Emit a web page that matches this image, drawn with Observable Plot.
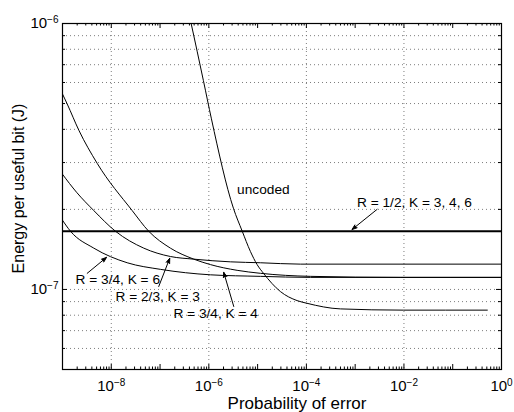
<!DOCTYPE html>
<html><head><meta charset="utf-8">
<script src="https://cdn.jsdelivr.net/npm/d3@7"></script>
<script src="https://cdn.jsdelivr.net/npm/@observablehq/plot@0.6"></script>
<style>
html,body{margin:0;padding:0;background:#fff;}
#chart svg{display:block;font-family:"Liberation Sans",Arial,sans-serif;}
</style></head><body><div id="chart"></div>
<script>
// ---- tick values ----
const xDecades = [1e-9, 1e-8, 1e-7, 1e-6, 1e-5, 1e-4, 1e-3, 1e-2, 1e-1, 1];
const xLabelTicks = [1e-8, 1e-6, 1e-4, 1e-2, 1];
const xLabelExps = ["\u22128", "\u22126", "\u22124", "\u22122", "0"];
const xGrid = [1e-8, 1e-6, 1e-4, 1e-2];
const yLabelTicks = [1e-7, 1e-6];
const yLabelExps = ["\u22127", "\u22126"];
const yGrid = [6e-8, 7e-8, 8e-8, 9e-8, 1e-7, 2e-7, 3e-7, 4e-7, 5e-7, 6e-7, 7e-7, 8e-7, 9e-7];
const minorMultipliers = [2, 3, 4, 5, 6, 7, 8, 9];

// ---- series ----
const uncodedP = [4.34e-7, 7.74e-7, 1.13e-6, 3.19e-6, 4.81e-6, 7.11e-6, 9.77e-6, 1.32e-5, 2.93e-5, 6.44e-5, 1.03e-4, 4.98e-4, 9.7e-3, 0.512];
const uncodedE = [1.0e-6, 6.10e-7, 4.38e-7, 2.02e-7, 1.66e-7, 1.39e-7, 1.24e-7, 1.15e-7, 9.82e-8, 9.08e-8, 8.87e-8, 8.45e-8, 8.36e-8, 8.36e-8];

const r34k4P = [1e-9, 1.25e-9, 2.16e-9, 5.14e-9, 2.68e-8, 5.86e-8, 1.63e-7, 4.91e-7, 1.08e-6, 3.80e-6, 1.14e-5, 1.21e-4, 8.4e-3, 1];
const r34k4E = [5.43e-7, 4.98e-7, 3.97e-7, 2.98e-7, 1.98e-7, 1.655e-7, 1.43e-7, 1.30e-7, 1.24e-7, 1.18e-7, 1.15e-7, 1.12e-7, 1.11e-7, 1.11e-7];

const r23k3P = [1e-9, 1.94e-9, 4.38e-9, 1.22e-8, 4.63e-8, 1.63e-7, 4.91e-7, 2.77e-6, 1.14e-5, 7.53e-5, 1];
const r23k3E = [2.71e-7, 2.32e-7, 1.98e-7, 1.655e-7, 1.43e-7, 1.33e-7, 1.30e-7, 1.27e-7, 1.26e-7, 1.245e-7, 1.245e-7];

const r34k6P = [1e-9, 1.46e-9, 4.38e-9, 2.12e-8, 1.02e-7, 1.08e-6, 1.14e-5, 1.21e-4, 1];
const r34k6E = [1.82e-7, 1.655e-7, 1.43e-7, 1.26e-7, 1.19e-7, 1.135e-7, 1.12e-7, 1.11e-7, 1.11e-7];

const r12P = [1e-9, 1];
const r12E = [1.655e-7, 1.655e-7];

// ---- annotations ----
const noteText = ["R = 1/2, K = 3, 4, 6", "uncoded", "R = 3/4, K = 6", "R = 2/3, K = 3", "R = 3/4, K = 4"];
const noteP = [1.09e-3, 3.80e-6, 1.85e-9, 1.22e-8, 1.88e-7];
const noteE = [2.12e-7, 2.38e-7, 1.09e-7, 9.42e-8, 8.12e-8];
const arrowFromP = [2.81e-3, 3.21e-9, 9.4e-8, 3.24e-6];
const arrowFromE = [2.0e-7, 1.15e-7, 1.026e-7, 8.63e-8];
const arrowToP = [8.63e-4, 7.99e-9, 1.58e-7, 2.02e-6];
const arrowToE = [1.68e-7, 1.32e-7, 1.31e-7, 1.16e-7];

// ---- build tables ----
const mk = (name, P, E) => P.map((p, i) => ({series: name, p, e: E[i]}));
const curves = [
  ...mk("uncoded", uncodedP, uncodedE),
  ...mk("R=3/4,K=4", r34k4P, r34k4E),
  ...mk("R=2/3,K=3", r23k3P, r23k3E),
  ...mk("R=3/4,K=6", r34k6P, r34k6E)
];
const r12 = mk("R=1/2", r12P, r12E);
const notes = noteText.map((t, i) => ({t, p: noteP[i], e: noteE[i]}));
const arrows = arrowFromP.map((_, i) => ({x1: arrowFromP[i], y1: arrowFromE[i], x2: arrowToP[i], y2: arrowToE[i]}));
const xMinor = xDecades.slice(0, -1).flatMap(d => minorMultipliers.map(m => m * d));
const yMinor = [1e-8, 1e-7].flatMap(d => minorMultipliers.map(m => m * d)).filter(v => v > 5e-8 && v < 1e-6);
const yMajor = [1e-7, 1e-6];

const W = 514, H = 412, mL = 62, mR = 13, mT = 23, mB = 43;
const fw = W - mL - mR, fh = H - mT - mB;
const gridStyle = {stroke: "#6e6e6e", strokeWidth: 0.9, strokeDasharray: "1,3"};

const chart = Plot.plot({
  width: W, height: H,
  marginLeft: mL, marginRight: mR, marginTop: mT, marginBottom: mB,
  style: {fontFamily: "Liberation Sans, Arial, sans-serif", background: "#fff"},
  x: {type: "log", domain: [1e-9, 1], axis: null},
  y: {type: "log", domain: [5e-8, 1e-6], axis: null},
  marks: [
    Plot.ruleX(xGrid, gridStyle),
    Plot.ruleY(yGrid, gridStyle),
    // ticks (inward, all four sides)
    Plot.ruleX(xDecades, {insetTop: fh - 5, stroke: "black"}),
    Plot.ruleX(xDecades, {insetBottom: fh - 5, stroke: "black"}),
    Plot.ruleX(xMinor, {insetTop: fh - 2.5, stroke: "black"}),
    Plot.ruleX(xMinor, {insetBottom: fh - 2.5, stroke: "black"}),
    Plot.ruleY(yMajor, {insetRight: fw - 5, stroke: "black"}),
    Plot.ruleY(yMajor, {insetLeft: fw - 5, stroke: "black"}),
    Plot.ruleY(yMinor, {insetRight: fw - 3, stroke: "black"}),
    Plot.ruleY(yMinor, {insetLeft: fw - 3, stroke: "black"}),
    // curves
    Plot.line(curves, {x: "p", y: "e", z: "series", stroke: "black", strokeWidth: 1, curve: "monotone-x", clip: true}),
    Plot.line(r12, {x: "p", y: "e", stroke: "black", strokeWidth: 1.8, clip: true}),
    // annotations
    Plot.arrow(arrows, {x1: "x1", y1: "y1", x2: "x2", y2: "y2", stroke: "#010101", strokeWidth: 1, headLength: 8, headAngle: 40}),
    Plot.text(notes, {x: "p", y: "e", text: "t", textAnchor: "start", fontSize: 13.7, fill: "black"}),
    // tick labels
    Plot.text(xLabelTicks, {x: d => d, frameAnchor: "bottom", dy: 17, text: (d, i) => xLabelExps[i], textAnchor: "middle", lineAnchor: "middle", fontSize: 15, fill: "black"}),
    Plot.text(yLabelTicks, {y: d => d, frameAnchor: "left", dx: -4, text: (d, i) => yLabelExps[i], textAnchor: "end", lineAnchor: "middle", fontSize: 15, fill: "black"}),
    // axis titles
    Plot.text(["Probability of error"], {frameAnchor: "bottom", dx: 15, dy: 34, textAnchor: "middle", lineAnchor: "middle", fontSize: 17, fill: "black"}),
    Plot.text(["Energy per useful bit (J)"], {frameAnchor: "left", dx: -44, dy: -8, rotate: -90, textAnchor: "middle", lineAnchor: "middle", fontSize: 16, fill: "black"}),
    Plot.frame({stroke: "black", strokeWidth: 1.2})
  ]
});

// turn exponent-only labels into 10 with a superscript
const allExps = xLabelExps.concat(yLabelExps);
const SVGNS = "http://www.w3.org/2000/svg";
Array.from(chart.getElementsByTagName("text")).forEach(el => {
  const exp = el.textContent;
  if (!allExps.includes(exp)) return;
  while (el.firstChild) el.removeChild(el.firstChild);
  el.appendChild(document.createTextNode("10"));
  const ts = document.createElementNS(SVGNS, "tspan");
  ts.setAttribute("dy", "-0.55em");
  ts.setAttribute("font-size", "10");
  ts.textContent = exp;
  el.appendChild(ts);
});
// filled arrow heads
Array.from(chart.getElementsByTagName("g")).forEach(g => {
  if ((g.getAttribute("stroke") || "").toLowerCase() === "#010101") {
    Array.from(g.getElementsByTagName("path")).forEach(p => p.setAttribute("fill", "black"));
  }
});
document.getElementById("chart").appendChild(chart);
</script></body></html>
